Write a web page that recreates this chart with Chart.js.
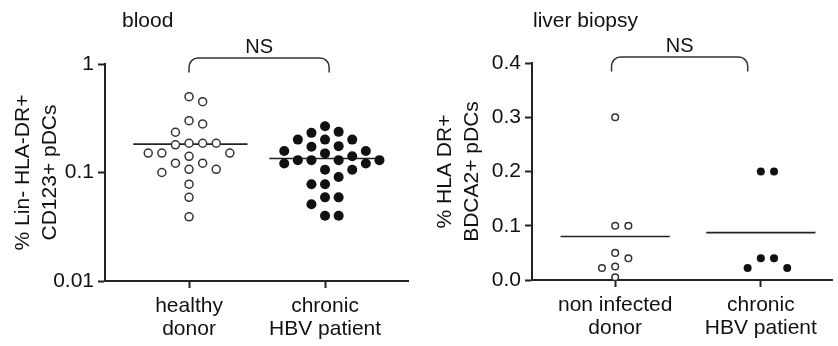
<!DOCTYPE html>
<html>
<head>
<meta charset="utf-8">
<script src="https://cdn.jsdelivr.net/npm/chart.js@4.4.1/dist/chart.umd.min.js"></script>
<style>
  body { margin: 0; background: #fff; }
  #wrap { position: relative; width: 838px; height: 346px; }
  canvas { position: absolute; top: 0; }
</style>
</head>
<body>
<div id="wrap">
  <canvas id="bloodChart" width="420" height="346" style="left:0"></canvas>
  <canvas id="liverChart" width="418" height="346" style="left:420px"></canvas>
</div>
<script>
// blood panel (log axis)
var bloodGroups = [["healthy", "donor"], ["chronic", "HBV patient"]]
var bloodHealthy = [0.50, 0.45, 0.30, 0.28, 0.235, 0.186, 0.186, 0.186, 0.18, 0.151, 0.151, 0.151,
                    0.141, 0.122, 0.122, 0.107, 0.107, 0.100, 0.078, 0.059, 0.039]
var bloodChronic = [0.267, 0.237, 0.232, 0.201, 0.201, 0.201, 0.175, 0.173, 0.158, 0.158, 0.150, 0.141,
                    0.130, 0.130, 0.130, 0.130, 0.121, 0.121, 0.106, 0.106, 0.091, 0.078, 0.078,
                    0.059, 0.059, 0.051, 0.040, 0.040]
var bloodTicks = [0.01, 0.1, 1]
var bloodBracket = [1.0, 2.03]

// liver biopsy panel (linear axis)
var liverGroups = [["non infected", "donor"], ["chronic", "HBV patient"]]
var liverHealthy = [0.30, 0.10, 0.10, 0.05, 0.04, 0.025, 0.022, 0.005]
var liverChronic = [0.20, 0.20, 0.04, 0.04, 0.022, 0.022]
var liverTicks = [0, 0.1, 0.2, 0.3, 0.4]
var liverBracket = [0.975, 1.91]

Chart.defaults.font.family = "'Liberation Sans', Arial, sans-serif"
Chart.defaults.color = '#111'

var FUENTE = "'Liberation Sans', Arial, sans-serif"

function media(arr) {
    return arr.reduce(function (a, b) { return a + b }, 0) / arr.length
}

// titulo del panel, llave y "NS"
var anotaciones = {
    id: 'anotaciones',
    afterDraw: function (chart, args, opts) {
        var ctx = chart.ctx, area = chart.chartArea, x = chart.scales.x
        ctx.save()
        ctx.fillStyle = '#111'
        ctx.font = '21px ' + FUENTE
        ctx.textAlign = 'left'
        ctx.textBaseline = 'alphabetic'
        ctx.fillText(opts.title, area.left + opts.titleOffset, 27)

        var x1 = x.getPixelForValue(opts.bracket[0])
        var x2 = x.getPixelForValue(opts.bracket[1])
        var top = area.top - 6, bot = area.top + 8.5, r = 9
        ctx.strokeStyle = '#333'
        ctx.lineWidth = 1.5
        ctx.beginPath()
        ctx.moveTo(x1, bot)
        ctx.lineTo(x1, top + r)
        ctx.arcTo(x1, top, x1 + r, top, r)
        ctx.lineTo(x2 - r, top)
        ctx.arcTo(x2, top, x2, top + r, r)
        ctx.lineTo(x2, bot)
        ctx.stroke()

        ctx.font = '20px ' + FUENTE
        ctx.textAlign = 'center'
        ctx.fillText(opts.label, (x1 + x2) / 2, top - 5)
        ctx.restore()
    }
}

function armaPanel(canvasId, p) {
    var mH = media(p.healthy), mC = media(p.chronic)
    return new Chart(canvasId, {
        type: 'scatter',
        data: {
            datasets: [
                { data: p.healthy.map(function (v) { return { x: 1, y: v } }),
                  pointRadius: p.rOpen, pointBorderWidth: 1.5, pointBackgroundColor: '#fff',
                  pointBorderColor: '#333', clip: false },
                { data: p.chronic.map(function (v) { return { x: 2, y: v } }),
                  pointRadius: p.rFilled, pointBorderWidth: 0, pointBackgroundColor: '#111',
                  pointBorderColor: '#111', clip: false },
                { type: 'line', data: [{ x: 1 - p.half[0], y: mH }, { x: 1 + p.half[1], y: mH }],
                  borderColor: '#222', borderWidth: 1.6, pointRadius: 0, clip: false },
                { type: 'line', data: [{ x: 2 - p.half[0], y: mC }, { x: 2 + p.half[1], y: mC }],
                  borderColor: '#222', borderWidth: 1.6, pointRadius: 0, clip: false }
            ]
        },
        options: {
            responsive: false,
            animation: false,
            devicePixelRatio: 1,
            events: [],
            layout: { padding: { top: p.padTop, right: p.padRight, left: 0, bottom: 0 } },
            plugins: {
                legend: { display: false },
                tooltip: { enabled: false },
                anotaciones: { title: p.title, titleOffset: p.titleOffset, bracket: p.bracket, label: 'NS' }
            },
            scales: {
                x: {
                    type: 'linear', min: p.xMin, max: p.xMax,
                    afterBuildTicks: function (s) { s.ticks = [{ value: 1 }, { value: 2 }] },
                    ticks: {
                        callback: function (v, i) { return p.groups[i] },
                        font: { size: 21, lineHeight: 1.12 }, color: '#111',
                        padding: 6, maxRotation: 0, autoSkip: false
                    },
                    grid: { drawOnChartArea: false, drawTicks: true, tickLength: 7, tickWidth: 2, tickColor: '#222' },
                    border: { color: '#222', width: 2 },
                    afterFit: function (s) { s.height = p.xHeight }
                },
                y: {
                    type: p.yType, min: p.yMin, max: p.yMax,
                    afterBuildTicks: function (s) { s.ticks = p.ticks.map(function (v) { return { value: v } }) },
                    ticks: {
                        callback: p.fmt,
                        font: { size: 21 }, color: '#111', padding: 4
                    },
                    grid: { drawOnChartArea: false, drawTicks: true, tickLength: 7, tickWidth: 2, tickColor: '#222' },
                    border: { color: '#222', width: 2 },
                    title: {
                        display: true, text: p.yTitle, color: '#111',
                        font: { size: 21, lineHeight: 1.28 }, padding: { top: p.titlePad, bottom: 0 }
                    },
                    afterFit: function (s) { s.width = p.yWidth }
                }
            }
        },
        plugins: [anotaciones]
    })
}

// reparte los puntos en columnas para que no se pisen (beeswarm simple)
function acomodaPuntos(chart, valores, idx, centro, sepPx, gapPx) {
    var x = chart.scales.x, y = chart.scales.y
    var paso = sepPx / (x.getPixelForValue(2) - x.getPixelForValue(1))
    var orden = [0, 1, -1, 2, -2, 3, -3, 4, -4, 5, -5]
    var puestos = []
    valores.slice().sort(function (a, b) { return b - a }).forEach(function (v) {
        var py = y.getPixelForValue(v)
        var k = orden.find(function (c) {
            return !puestos.some(function (q) { return q.k === c && Math.abs(q.py - py) < gapPx })
        })
        puestos.push({ k: k, py: py, v: v })
    })
    chart.data.datasets[idx].data = puestos.map(function (q) { return { x: centro + q.k * paso, y: q.v } })
}

var blood = armaPanel('bloodChart', {
    title: 'blood', titleOffset: 17, bracket: bloodBracket,
    healthy: bloodHealthy, chronic: bloodChronic, groups: bloodGroups,
    rOpen: 4, rFilled: 5, half: [0.41, 0.43],
    xMin: 0.382, xMax: 2.61, xHeight: 65, yWidth: 105, padTop: 64, padRight: 12,
    yType: 'logarithmic', yMin: 0.01, yMax: 1, ticks: bloodTicks,
    fmt: function (v) { return String(v) },
    yTitle: ['% Lin- HLA-DR+', 'CD123+ pDCs'], titlePad: 10
})
acomodaPuntos(blood, bloodHealthy, 0, 1, 13.6, 12)
acomodaPuntos(blood, bloodChronic, 1, 2, 13.6, 12)
blood.update('none')

var liver = armaPanel('liverChart', {
    title: 'liver biopsy', titleOffset: 1, bracket: liverBracket,
    healthy: liverHealthy, chronic: liverChronic, groups: liverGroups,
    rOpen: 3.3, rFilled: 4, half: [0.375, 0.375],
    xMin: 0.429, xMax: 2.492, xHeight: 66, yWidth: 112, padTop: 63, padRight: 0,
    yType: 'linear', yMin: 0, yMax: 0.4, ticks: liverTicks,
    fmt: function (v) { return v.toFixed(1) },
    yTitle: ['% HLA DR+', 'BDCA2+ pDCs'], titlePad: 12
})
acomodaPuntos(liver, liverHealthy, 0, 1, 13.2, 10.5)
acomodaPuntos(liver, liverChronic, 1, 2, 13.2, 10.5)
liver.update('none')
</script>
</body>
</html>
